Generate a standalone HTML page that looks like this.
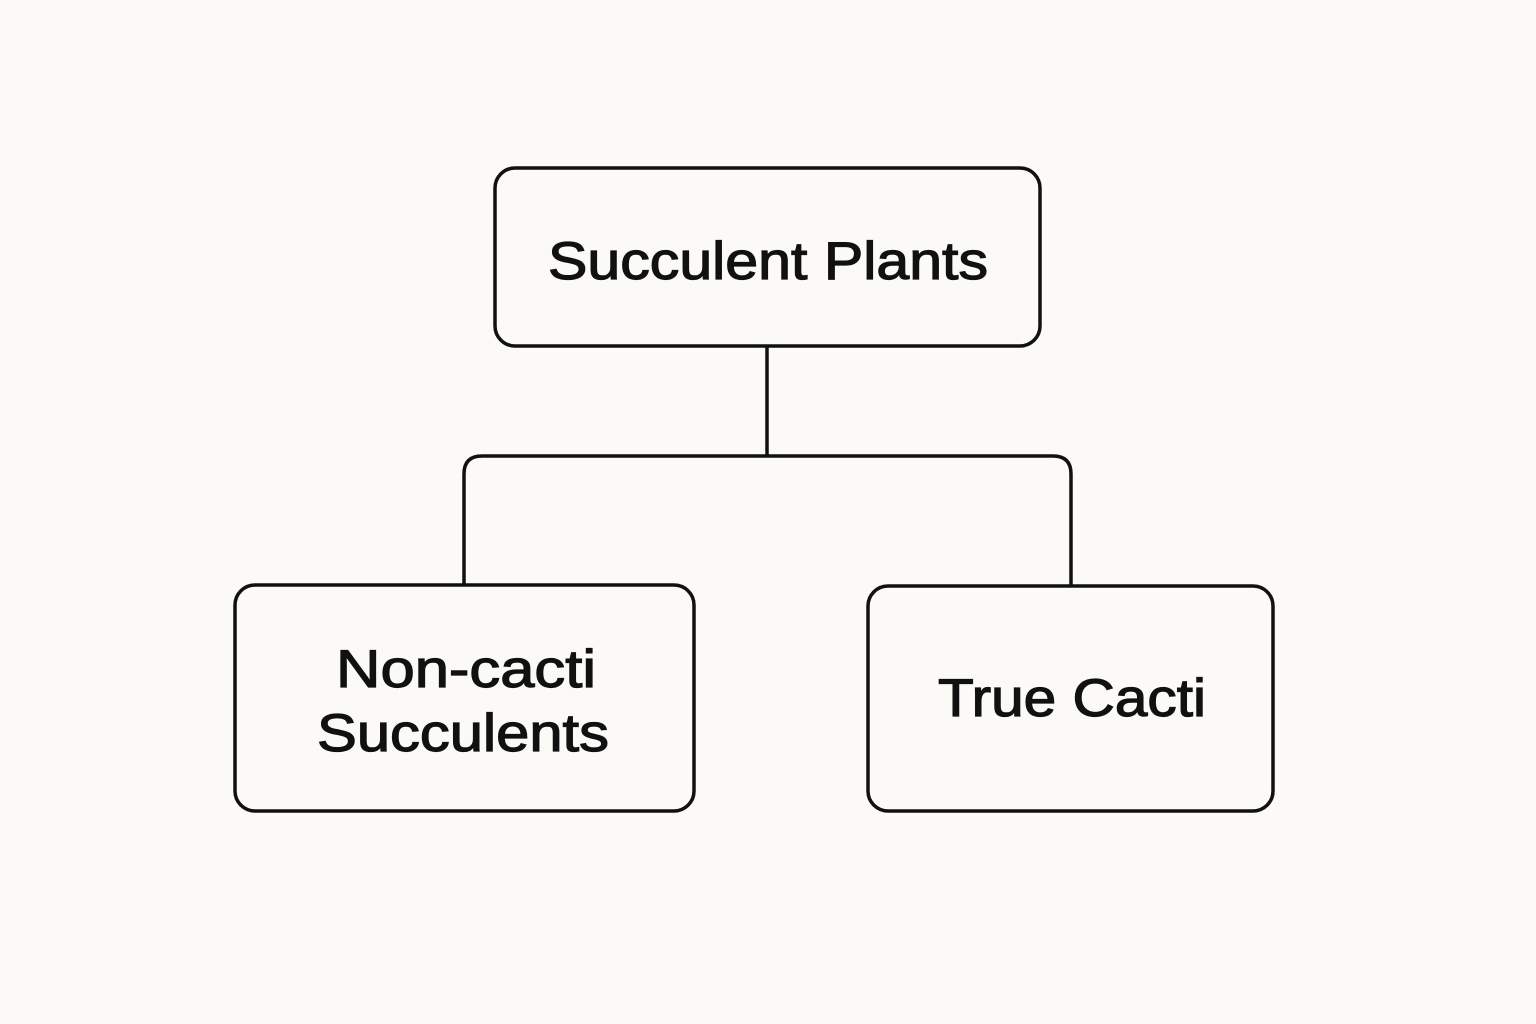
<!DOCTYPE html>
<html><head><meta charset="utf-8"><style>
html,body{margin:0;padding:0;background:#fbfaf7;}
svg{display:block}
text{font-family:"Liberation Sans",sans-serif;fill:#111;stroke:#111;stroke-width:1.2px;font-size:53px;text-anchor:middle;}
</style></head><body>
<svg width="1536" height="1024" viewBox="0 0 1536 1024">
<rect width="1536" height="1024" fill="#fbfaf7"/>
<g fill="none" stroke="#111" stroke-width="3.5">
<rect x="495" y="168" width="545" height="178" rx="20"/>
<rect x="235" y="585" width="459" height="226" rx="20"/>
<rect x="868" y="586" width="405" height="225" rx="20"/>
<line x1="767" y1="346" x2="767" y2="456"/>
<path d="M464 585 V474 Q464 456 482 456 H1053 Q1071 456 1071 474 V586"/>
</g>
<text x="768" y="279" textLength="440" lengthAdjust="spacingAndGlyphs">Succulent Plants</text>
<text x="466" y="687" textLength="260" lengthAdjust="spacingAndGlyphs">Non-cacti</text>
<text x="463" y="751" textLength="292" lengthAdjust="spacingAndGlyphs">Succulents</text>
<text x="1072" y="716" textLength="268" lengthAdjust="spacingAndGlyphs">True Cacti</text>
</svg>
</body></html>
